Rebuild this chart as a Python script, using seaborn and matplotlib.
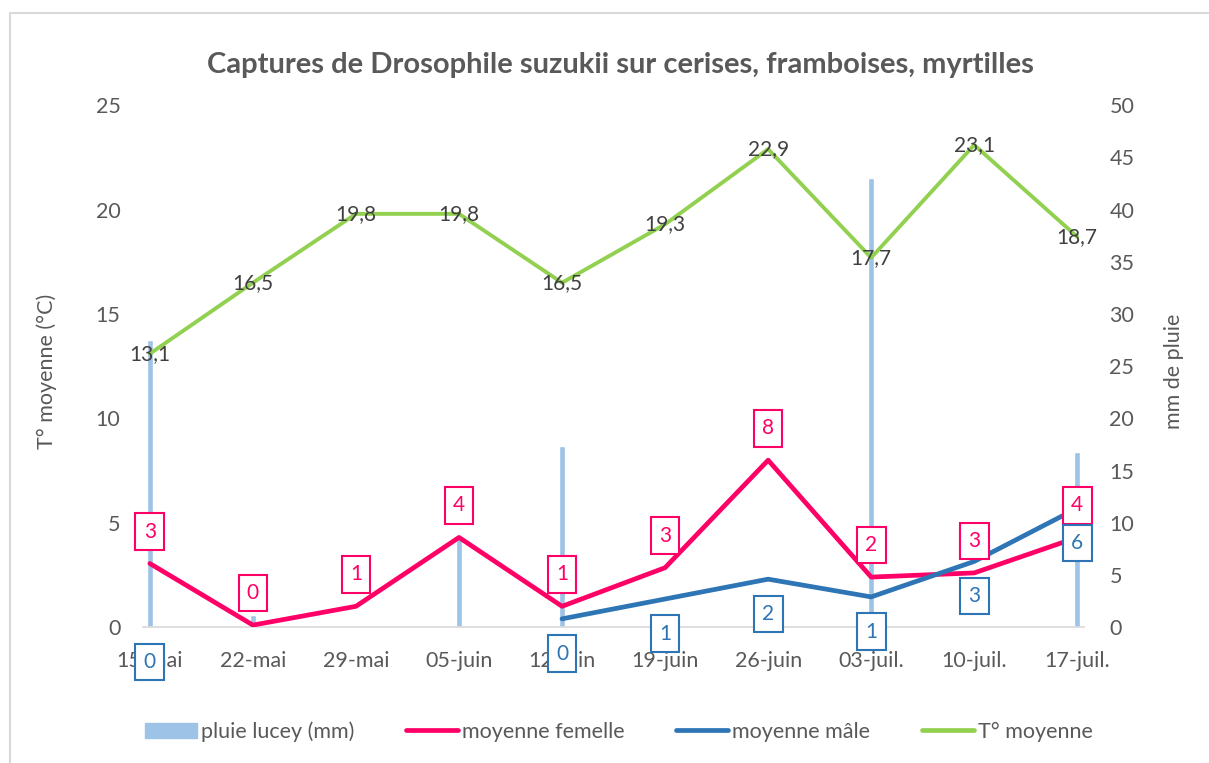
import numpy as np
import pandas as pd
import matplotlib
matplotlib.use("Agg")
import matplotlib.pyplot as plt
from matplotlib.patches import Patch, Rectangle
from matplotlib.lines import Line2D
import seaborn as sns

# data
dates = ["15-mai", "22-mai", "29-mai", "05-juin", "12-juin",
         "19-juin", "26-juin", "03-juil.", "10-juil.", "17-juil."]
pluie = [27.5, 1.2, 0, 8.6, 17.4, 0, 0, 43.0, 0, 16.8]
femelle = [3.05, 0.1, 1.0, 4.3, 1.0, 2.85, 8.0, 2.4, 2.6, 4.3]
male = [0, np.nan, np.nan, np.nan, 0.4, 1.35, 2.3, 1.45, 3.15, 5.7]
temp = [13.1, 16.5, 19.8, 19.8, 16.5, 19.3, 22.9, 17.7, 23.1, 18.7]

c_rain = "#9DC3E6"
c_fem = "#FF0066"
c_male = "#2E75B6"
c_temp = "#92D050"
c_text = "#595959"
c_grid = "#D9D9D9"

sns.set_theme(style="white")
plt.rcParams["font.family"] = ["Lato", "DejaVu Sans"]

df = pd.DataFrame({"date": dates, "pos": np.arange(len(dates)),
                   "pluie": pluie, "femelle": femelle, "male": male, "temp": temp})
# split the male series where values are missing so the line breaks
df["seg"] = df["male"].isna().cumsum()

fig = plt.figure(figsize=(12.09, 7.63), dpi=100)
ax = fig.add_axes([0.118, 0.178, 0.779, 0.684])
ax2 = ax.twinx()
ax.set_zorder(ax2.get_zorder() + 1)
ax.patch.set_visible(False)

# rain bars on right axis
sns.barplot(data=df, x="pos", y="pluie", ax=ax2, color=c_rain, width=0.06,
            saturation=1, native_scale=True, errorbar=None, zorder=2)

# lines on left axis
sns.lineplot(data=df, x="pos", y="femelle", ax=ax, color=c_fem, lw=3.4, zorder=3)
sns.lineplot(data=df.dropna(subset=["male"]), x="pos", y="male", units="seg",
             estimator=None, ax=ax, color=c_male, lw=3.4, zorder=4)
sns.lineplot(data=df, x="pos", y="temp", ax=ax, color=c_temp, lw=2.8, zorder=3)

# axes
fs = 15.5
ax.set_xlim(-0.07, 9.07)
ax.set_ylim(0, 25)
ax2.set_ylim(0, 50)
ax.set_yticks(range(0, 26, 5))
ax2.set_yticks(range(0, 51, 5))
ax.set_xticks(df["pos"], dates)
ax.set_xticks(df["pos"] - 0.06, minor=True)
ax.tick_params(axis="x", which="major", length=0, pad=17, labelsize=fs, labelcolor=c_text)
ax.tick_params(axis="x", which="minor", length=6, width=1, color=c_grid)
ax.tick_params(axis="y", length=0, pad=16, labelsize=fs, labelcolor=c_text)
ax2.tick_params(axis="y", length=0, pad=18, labelsize=fs, labelcolor=c_text)
ax.grid(False)
ax2.grid(False)
ax2.set_yticks(range(0, 51, 10), minor=True)
ax2.yaxis.grid(True, which="minor", color=c_grid, lw=1.2, zorder=0)
ax2.set_axisbelow(True)
for s in ax.spines.values():
    s.set_visible(False)
for s in ax2.spines.values():
    s.set_visible(False)
ax.spines["bottom"].set_visible(True)
ax.spines["bottom"].set_color(c_grid)
ax.spines["bottom"].set_linewidth(1.2)

ax.set_xlabel("")
ax2.set_xlabel("")
ax.set_ylabel("T° moyenne (°C)", fontsize=fs, color=c_text)
ax2.set_ylabel("mm de pluie", fontsize=fs, color=c_text)
ax.yaxis.set_label_coords(-0.091, 0.49)
ax2.yaxis.set_label_coords(1.084, 0.49)

# data labels
for i, v in enumerate(femelle):
    ax.annotate(f"{v:.0f}", (i, v), xytext=(0, 23), textcoords="offset points",
                ha="center", va="center", color=c_fem, fontsize=15, zorder=6,
                bbox=dict(boxstyle="square,pad=0.4", fc="white", ec=c_fem, lw=1.5))
for i, v in enumerate(male):
    if np.isnan(v):
        continue
    ax.annotate(f"{v:.0f}", (i, v), xytext=(0, -25), textcoords="offset points",
                ha="center", va="center", color=c_male, fontsize=15, zorder=6,
                bbox=dict(boxstyle="square,pad=0.4", fc="white", ec=c_male, lw=1.5))
for i, v in enumerate(temp):
    ax.annotate(f"{v:.1f}".replace(".", ","), (i, v), ha="center", va="center",
                color="#404040", fontsize=15, zorder=6)

fig.text(0.513, 0.915, "Captures de Drosophile suzukii sur cerises, framboises, myrtilles",
         ha="center", va="center", fontsize=21, fontweight="bold", color=c_text)

handles = [Patch(color=c_rain),
           Line2D([], [], color=c_fem, lw=3.4),
           Line2D([], [], color=c_male, lw=3.4),
           Line2D([], [], color=c_temp, lw=3.4)]
labels = ["pluie lucey (mm)", "moyenne femelle", "moyenne mâle", "T° moyenne"]
fig.legend(handles, labels, loc="center", bbox_to_anchor=(0.512, 0.041), ncol=4,
           frameon=False, fontsize=fs, labelcolor=c_text, handlelength=2.4,
           handletextpad=0.2, columnspacing=2.4)

fig.patches.append(Rectangle((10 / 1209, -0.1), 1.2, 1 - 13 / 763 + 0.1,
                             transform=fig.transFigure, fill=False,
                             ec=c_grid, lw=1.5))

fig.savefig("out.png", dpi=100)
